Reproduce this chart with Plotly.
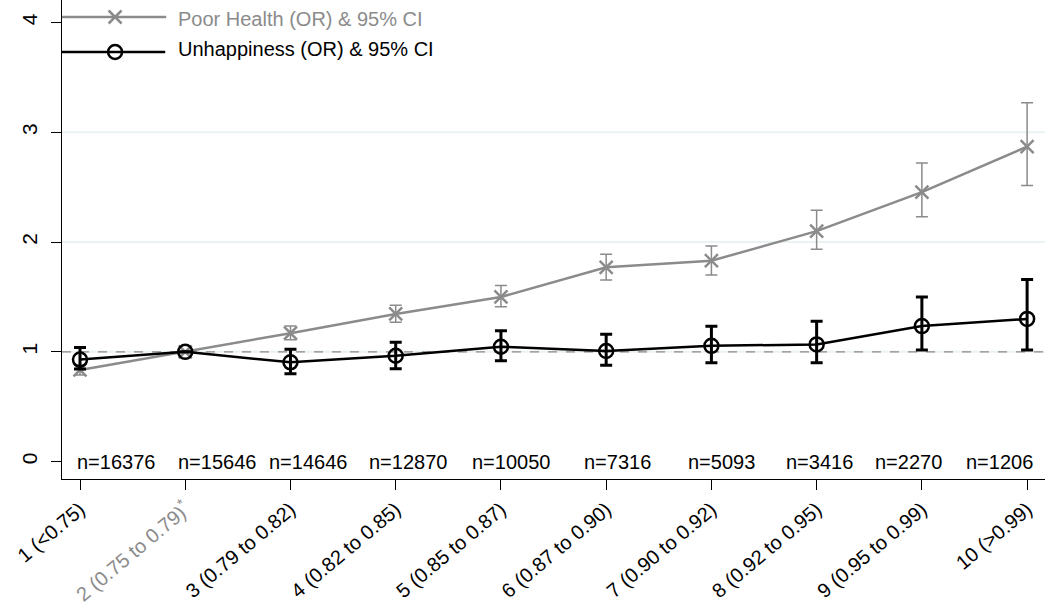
import plotly.graph_objects as go

# ---- data ----
categories = ["1 (<0.75)", "2 (0.75 to 0.79)*", "3 (0.79 to 0.82)", "4 (0.82 to 0.85)",
              "5 (0.85 to 0.87)", "6 (0.87 to 0.90)", "7 (0.90 to 0.92)", "8 (0.92 to 0.95)",
              "9 (0.95 to 0.99)", "10 (>0.99)"]
cat_pos = [1, 2, 3, 4, 5, 6, 7, 8, 9, 10]

health_or = [0.835, 1.00, 1.17, 1.345, 1.50, 1.77, 1.83, 2.10, 2.455, 2.87]
health_lo = [0.79, 1.00, 1.11, 1.27, 1.41, 1.655, 1.70, 1.935, 2.23, 2.515]
health_hi = [0.88, 1.00, 1.235, 1.425, 1.605, 1.89, 1.965, 2.29, 2.72, 3.27]

unhap_or = [0.93, 1.00, 0.905, 0.965, 1.047, 1.008, 1.055, 1.068, 1.235, 1.30]
unhap_lo = [0.845, 1.00, 0.80, 0.847, 0.92, 0.878, 0.90, 0.90, 1.018, 1.018]
unhap_hi = [1.04, 1.00, 1.024, 1.087, 1.193, 1.16, 1.233, 1.28, 1.50, 1.66]

n_labels = ["n=16376", "n=15646", "n=14646", "n=12870", "n=10050",
            "n=7316", "n=5093", "n=3416", "n=2270", "n=1206"]

y_ticks = [0, 1, 2, 3, 4]
grid_vals = [1, 2, 3]
ref_line = 1

# ---- styling ----
GRAY = "#8b8b8b"
FONT = "Liberation Sans, Arial, sans-serif"
FS = 20
n_xshift = [36, 32, 18, 12, 10, 11, 10, 3, -13, -28]
PH = 479.0  # plot height in px

def err(orv, lo, hi):
    return ([h - o for o, h in zip(orv, hi)], [o - l for o, l in zip(orv, lo)])

fig = go.Figure()

hp, hm = err(health_or, health_lo, health_hi)
fig.add_trace(go.Scatter(
    x=cat_pos, y=health_or, mode="lines+markers",
    line=dict(color=GRAY, width=2.5),
    marker=dict(symbol="x-thin", size=13, color=GRAY, line=dict(color=GRAY, width=2.5)),
    error_y=dict(type="data", symmetric=False, array=hp, arrayminus=hm,
                 color=GRAY, thickness=1.5, width=6),
    showlegend=False, cliponaxis=False))

up, um = err(unhap_or, unhap_lo, unhap_hi)
fig.add_trace(go.Scatter(
    x=cat_pos, y=unhap_or, mode="lines+markers",
    line=dict(color="black", width=2.5),
    marker=dict(symbol="circle-open", size=14, color="black", line=dict(color="black", width=2.5)),
    error_y=dict(type="data", symmetric=False, array=up, arrayminus=um,
                 color="black", thickness=3, width=6),
    showlegend=False, cliponaxis=False))

# legend markers on overlay axes
fig.add_trace(go.Scatter(x=[0.054], y=[1 - 17 / PH], xaxis="x2", yaxis="y2", mode="markers",
                         marker=dict(symbol="x-thin", size=13, color=GRAY,
                                     line=dict(color=GRAY, width=2.5)),
                         showlegend=False, hoverinfo="skip", cliponaxis=False))
fig.add_trace(go.Scatter(x=[0.054], y=[1 - 52 / PH], xaxis="x2", yaxis="y2", mode="markers",
                         marker=dict(symbol="circle-open", size=14, color="black",
                                     line=dict(color="black", width=2.5)),
                         showlegend=False, hoverinfo="skip", cliponaxis=False))

shapes = []
for g in grid_vals:
    shapes.append(dict(type="line", xref="paper", x0=0, x1=1, yref="y", y0=g, y1=g,
                       line=dict(color="#EAF2F3", width=2), layer="below"))
shapes.append(dict(type="line", xref="paper", x0=0, x1=1, yref="y", y0=ref_line, y1=ref_line,
                   line=dict(color="#8a8a8a", width=1.2, dash="dash"), layer="below"))
# legend lines
shapes.append(dict(type="line", xref="paper", yref="paper", x0=0, x1=0.106,
                   y0=1 - 17 / PH, y1=1 - 17 / PH, line=dict(color=GRAY, width=2.5)))
shapes.append(dict(type="line", xref="paper", yref="paper", x0=0, x1=0.105,
                   y0=1 - 52 / PH, y1=1 - 52 / PH, line=dict(color="black", width=2.5)))

annotations = []
for x, t, dx in zip(cat_pos, n_labels, n_xshift):
    annotations.append(dict(x=x, y=0, xref="x", yref="y", text=t, showarrow=False,
                            xshift=dx, font=dict(family=FONT, size=FS, color="black")))
annotations.append(dict(x=0.116, y=1 - 19 / PH, xref="paper", yref="paper",
                        xanchor="left", yanchor="middle",
                        text="Poor Health (OR) & 95% CI", showarrow=False,
                        font=dict(family=FONT, size=FS, color=GRAY)))
annotations.append(dict(x=0.116, y=1 - 49 / PH, xref="paper", yref="paper",
                        xanchor="left", yanchor="middle",
                        text="Unhappiness (OR) & 95% CI", showarrow=False,
                        font=dict(family=FONT, size=FS, color="black")))

ticktext = []
for i, c in enumerate(categories):
    if i == 1:
        ticktext.append("<span style='color:%s'>2 (0.75 to 0.79)<sup>*</sup></span>" % GRAY)
    else:
        ticktext.append(c)

fig.update_layout(
    width=1045, height=609,
    margin=dict(l=62, r=0, t=0, b=130),
    plot_bgcolor="white", paper_bgcolor="white",
    font=dict(family=FONT, size=FS, color="black"),
    xaxis=dict(range=[0.829, 10.17], tickvals=cat_pos, ticktext=ticktext, tickangle=-40,
               showgrid=False, zeroline=False, showline=True, linecolor="black", linewidth=1.2,
               ticks="outside", ticklen=10, tickcolor="black", tickwidth=1.2, automargin=False,
               tickfont=dict(family=FONT, size=FS, color="black")),
    yaxis=dict(range=[-0.158, 4.205], tickvals=y_ticks, tickangle=-90,
               showgrid=False, zeroline=False, showline=True, linecolor="black", linewidth=1.2,
               ticks="outside", ticklen=10, tickcolor="black", tickwidth=1.2, automargin=False,
               ticklabelstandoff=6,
               tickfont=dict(family=FONT, size=FS + 1, color="black")),
    xaxis2=dict(overlaying="x", range=[0, 1], visible=False),
    yaxis2=dict(overlaying="y", range=[0, 1], visible=False),
    shapes=shapes, annotations=annotations, showlegend=False,
)

fig.write_html("out.html", config={"displayModeBar": False},
               post_script="document.body.style.margin='0';document.body.style.overflow='hidden';")
